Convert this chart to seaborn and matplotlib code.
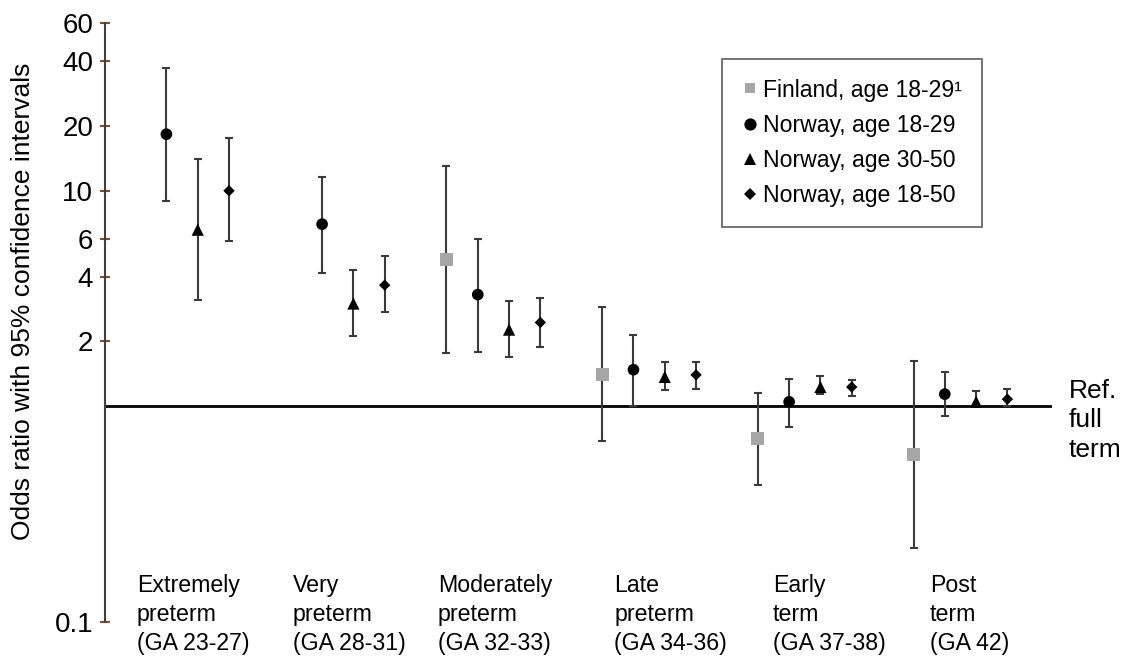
import numpy as np
import pandas as pd
import seaborn as sns
import matplotlib
matplotlib.use("Agg")
import matplotlib.pyplot as plt
from matplotlib.lines import Line2D

# Gestational-age groups (x axis)
categories = [
    "Extremely\npreterm\n(GA 23-27)",
    "Very\npreterm\n(GA 28-31)",
    "Moderately\npreterm\n(GA 32-33)",
    "Late\npreterm\n(GA 34-36)",
    "Early\nterm\n(GA 37-38)",
    "Post\nterm\n(GA 42)",
]

series = [
    "Finland, age 18-29\u00b9",
    "Norway, age 18-29",
    "Norway, age 30-50",
    "Norway, age 18-50",
]

nan = np.nan
# Odds ratios and 95% confidence limits, one list per cohort
finland_or = [nan, nan, 4.8, 1.41, 0.71, 0.60]
finland_lo = [nan, nan, 1.77, 0.69, 0.43, 0.22]
finland_hi = [nan, nan, 13.0, 2.9, 1.15, 1.62]

nor_1829_or = [18.3, 7.0, 3.3, 1.48, 1.05, 1.14]
nor_1829_lo = [9.0, 4.15, 1.78, 1.0, 0.80, 0.90]
nor_1829_hi = [37.0, 11.6, 5.95, 2.15, 1.34, 1.45]

nor_3050_or = [6.6, 3.0, 2.27, 1.37, 1.23, 1.05]
nor_3050_lo = [3.1, 2.13, 1.70, 1.19, 1.14, 1.0]
nor_3050_hi = [14.1, 4.28, 3.07, 1.61, 1.38, 1.18]

nor_1850_or = [10.0, 3.65, 2.45, 1.40, 1.23, 1.08]
nor_1850_lo = [5.85, 2.73, 1.88, 1.21, 1.12, 1.0]
nor_1850_hi = [17.6, 4.97, 3.17, 1.61, 1.33, 1.20]

y_ticks = [0.1, 2, 4, 6, 10, 20, 40, 60]
y_tick_labels = ["0.1", "2", "4", "6", "10", "20", "40", "60"]

# ---- build a long table -------------------------------------------------
estimates = [
    (finland_or, finland_lo, finland_hi),
    (nor_1829_or, nor_1829_lo, nor_1829_hi),
    (nor_3050_or, nor_3050_lo, nor_3050_hi),
    (nor_1850_or, nor_1850_lo, nor_1850_hi),
]
rows = []
for k, (name, (est, lo, hi)) in enumerate(zip(series, estimates)):
    for i, cat in enumerate(categories):
        rows.append({"series": name, "slot": k, "group": i,
                     "or": est[i], "lo": lo[i], "hi": hi[i]})
df = pd.DataFrame(rows).dropna()

# dodge the four cohorts inside each group
dodge = 0.201
df["x"] = df["group"] + (df["slot"] - 1.5) * dodge

# ---- styling --------------------------------------------------------------
sns.set_style("white")
plt.rcParams["font.family"] = ["Liberation Sans", "DejaVu Sans"]
plt.rcParams["text.color"] = "black"
plt.rcParams["axes.labelcolor"] = "black"
plt.rcParams["ytick.labelcolor"] = "black"

colors = {series[0]: "#a6a6a6", series[1]: "black",
          series[2]: "black", series[3]: "black"}
markers = {series[0]: "s", series[1]: "o", series[2]: "^", series[3]: "D"}
msizes = {series[0]: 9.4, series[1]: 8.4, series[2]: 8.8, series[3]: 5.8}

fig = plt.figure(figsize=(11.22, 6.66), dpi=100)
ax = fig.add_axes([105 / 1122, 44 / 666, 947 / 1122, 599 / 666])

ax.set_yscale("log")

# reference line at OR = 1
ax.axhline(1, color="black", lw=2.0, zorder=1)

for name in series:
    sub = df[df["series"] == name]
    ax.errorbar(sub["x"], sub["or"],
                yerr=[sub["or"] - sub["lo"], sub["hi"] - sub["or"]],
                fmt="none", ecolor="#3a3a3a", elinewidth=1.5,
                capsize=3.0, capthick=1.5, zorder=2)
    sns.scatterplot(data=sub, x="x", y="or", ax=ax, marker=markers[name],
                    color=colors[name], s=msizes[name] ** 2,
                    edgecolor="none", linewidth=0, zorder=3, legend=False)

ax.set_xlim(-0.495, 5.588)
ax.set_ylim(0.1, 60)

ax.set_yticks(y_ticks)
ax.set_yticklabels(y_tick_labels)
ax.yaxis.set_minor_locator(matplotlib.ticker.NullLocator())
ax.tick_params(axis="y", direction="inout", length=7, width=1.5,
               color="#7a4f2a", labelsize=20, labelcolor="black",
               pad=5, left=True)
ax.set_xticks([])
ax.set_xlabel("")

for side in ["top", "right", "bottom"]:
    ax.spines[side].set_visible(False)
ax.spines["left"].set_color("#404040")
ax.spines["left"].set_linewidth(1.5)

ax.set_ylabel("Odds ratio with 95% confidence intervals", fontsize=19,
              color="black")
ax.yaxis.set_label_coords(-0.074, 0.536)

# group captions inside the plotting area
label_left = [-0.29, -0.29, -0.356, -0.225, -0.204, -0.196]
caption_tf = matplotlib.transforms.blended_transform_factory(ax.transData, ax.transAxes)
for i, cat in enumerate(categories):
    ax.text(i + label_left[i], 0.080, cat, transform=caption_tf,
            ha="left", va="top", fontsize=16.7, linespacing=1.32,
            color="black")

# label for the reference line
ax.annotate("Ref.\nfull\nterm", xy=(1, 1),
            xycoords=("axes fraction", "data"),
            xytext=(12, -10), textcoords="offset points",
            ha="left", va="center", fontsize=19, linespacing=1.3,
            color="black", annotation_clip=False)

handles = [Line2D([], [], linestyle="none", marker=markers[n],
                  color=colors[n],
                  markersize=msizes[n] * (0.8 if n == series[0] else 1.05),
                  markeredgewidth=0) for n in series]
leg = ax.legend(handles, series, loc="upper left",
                bbox_to_anchor=(0.6515, 0.94), fontsize=16.6,
                frameon=True, fancybox=False, edgecolor="#333333",
                handlelength=0.7, handletextpad=0.25, labelspacing=0.53,
                borderpad=0.85, borderaxespad=0)
leg.get_frame().set_linewidth(1.2)
for t in leg.get_texts():
    t.set_color("black")

fig.savefig("out.png", dpi=100)
